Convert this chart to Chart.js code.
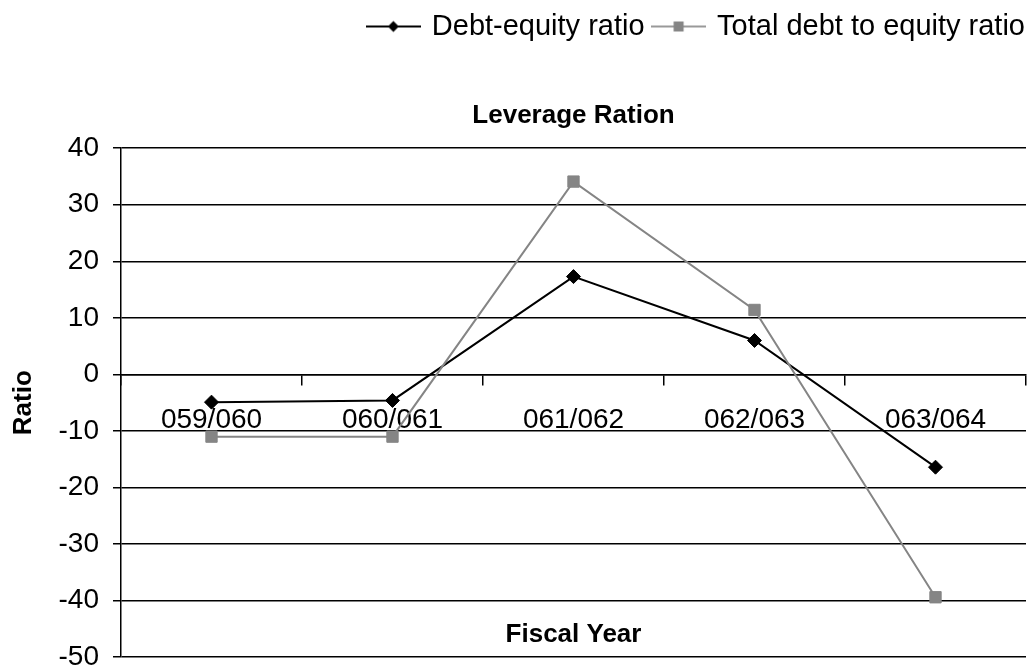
<!DOCTYPE html>
<html>
<head>
<meta charset="utf-8">
<script src="https://cdn.jsdelivr.net/npm/chart.js@4.4.0/dist/chart.umd.min.js"></script>
<style>
  html, body { margin: 0; padding: 0; background: #fff; overflow: hidden; }
  #wrap { width: 1035px; height: 670px; overflow: hidden; }
</style>
</head>
<body>
<div id="wrap"><canvas id="leverageChart" width="1035" height="688"></canvas></div>
<script>
const fiscalYears = ['059/060', '060/061', '061/062', '062/063', '063/064'];
const debtEquity = [-4.9, -4.6, 17.3, 6.0, -16.4];
const totalDebtEquity = [-11.0, -11.0, 34.1, 11.4, -39.4];
const yMin = -50;
const yMax = 40;
const yStep = 10;

const FONT = 'Arial, "Liberation Sans", sans-serif';

// legend swatch: short line with the series marker in the middle
function legendIcon(lineColor, markColor, shape) {
    const c = document.createElement('canvas');
    c.width = 55;
    c.height = 16;
    const g = c.getContext('2d');
    g.strokeStyle = lineColor;
    g.lineWidth = 2;
    g.beginPath();
    g.moveTo(0, 8);
    g.lineTo(55, 8);
    g.stroke();
    g.fillStyle = markColor;
    g.beginPath();
    if (shape === 'diamond') {
        g.moveTo(27.5, 2.5); g.lineTo(33, 8); g.lineTo(27.5, 13.5); g.lineTo(22, 8);
        g.closePath();
    } else {
        g.rect(22.5, 3, 10, 10);
    }
    g.fill();
    return c;
}

// "Fiscal Year" sits inside the plot, just above its bottom edge
const axisCaption = {
    id: 'axisCaption',
    afterDraw(chart) {
        const { ctx, chartArea } = chart;
        ctx.save();
        ctx.font = 'bold 26px ' + FONT;
        ctx.fillStyle = '#000';
        ctx.textAlign = 'center';
        ctx.textBaseline = 'middle';
        ctx.fillText('Fiscal Year', (chartArea.left + chartArea.right) / 2, chartArea.bottom - 22);
        ctx.restore();
    }
};

const ctx = document.getElementById('leverageChart').getContext('2d');
new Chart(ctx, {
    type: 'line',
    data: {
        labels: fiscalYears,
        datasets: [{
            label: 'Debt-equity ratio',
            data: debtEquity,
            borderColor: '#000',
            backgroundColor: '#000',
            borderWidth: 2,
            pointStyle: 'rectRot',
            pointRadius: 7,
            pointBorderWidth: 1,
            tension: 0,
            fill: false,
            order: 1
        }, {
            label: 'Total debt to equity ratio',
            data: totalDebtEquity,
            borderColor: '#858585',
            backgroundColor: '#858585',
            borderWidth: 2,
            pointStyle: 'rect',
            pointRadius: 8,
            pointBorderWidth: 1,
            tension: 0,
            fill: false,
            order: 0
        }]
    },
    options: {
        responsive: false,
        animation: false,
        layout: { padding: { top: 2, left: 0, right: 0, bottom: 0 } },
        plugins: {
            tooltip: { enabled: false },
            legend: {
                position: 'top',
                align: 'end',
                weight: 3000,
                labels: {
                    color: '#000',
                    font: { family: FONT, size: 29 },
                    usePointStyle: true,
                    pointStyleWidth: 48,
                    boxHeight: 16,
                    padding: 10,
                    generateLabels: () => [
                        { text: 'Debt-equity ratio', pointStyle: legendIcon('#000', '#000', 'diamond'), datasetIndex: 0, lineWidth: 0, fontColor: '#000' },
                        { text: 'Total debt to equity ratio', pointStyle: legendIcon('#999', '#858585', 'square'), datasetIndex: 1, lineWidth: 0, fontColor: '#000' }
                    ]
                }
            },
            title: {
                display: true,
                text: 'Leverage Ration',
                color: '#000',
                fullSize: false,
                weight: 500,
                font: { family: FONT, size: 26, weight: 'bold' },
                padding: { top: 49, bottom: 17 }
            }
        },
        scales: {
            x: {
                type: 'category',
                position: { y: 0 },
                offset: true,
                grid: {
                    display: true,
                    drawOnChartArea: false,
                    drawTicks: true,
                    tickLength: 10,
                    color: '#000',
                    lineWidth: 1.5,
                    offset: true
                },
                border: { display: true, color: '#000', width: 1.5 },
                ticks: {
                    color: '#000',
                    font: { family: FONT, size: 28 },
                    padding: 19,
                    maxRotation: 0,
                    autoSkip: false
                },
                afterFit: scale => { scale.height = 0; }
            },
            y: {
                min: yMin,
                max: yMax,
                ticks: {
                    stepSize: yStep,
                    color: '#000',
                    font: { family: FONT, size: 28 },
                    padding: 14
                },
                grid: { color: '#000', lineWidth: 1.5, tickLength: 8 },
                border: { display: true, color: '#000', width: 1.5 },
                title: {
                    display: true,
                    text: 'Ratio',
                    color: '#000',
                    font: { family: FONT, size: 26, weight: 'bold' },
                    padding: { top: 8, bottom: 4 }
                },
                afterFit: scale => { scale.width = 121; }
            }
        }
    },
    plugins: [axisCaption]
});
</script>
</body>
</html>
